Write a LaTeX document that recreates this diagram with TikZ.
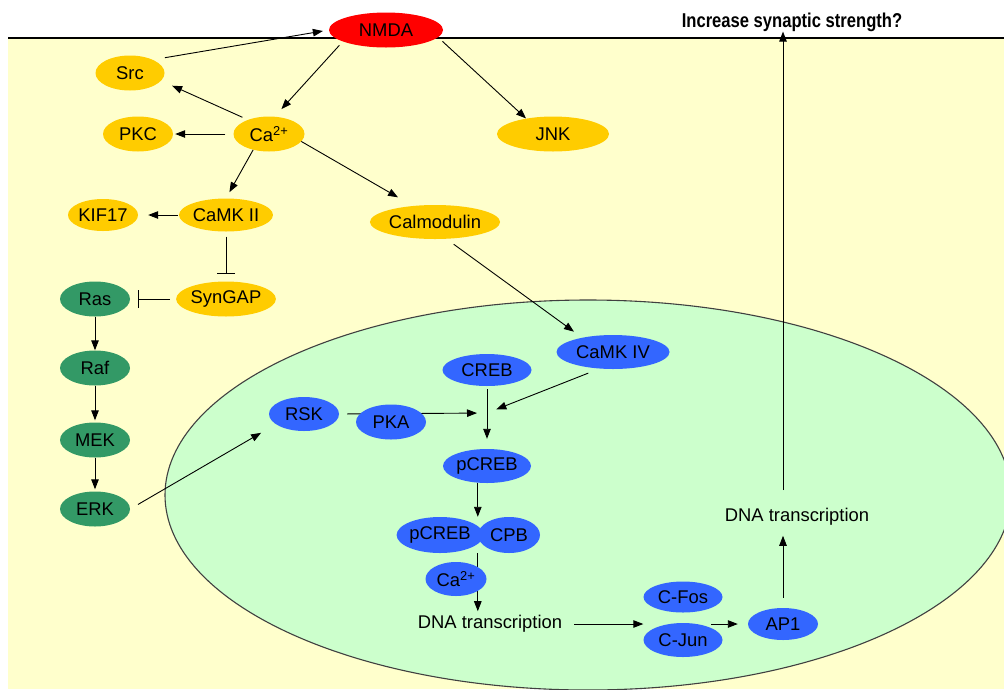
\documentclass[tikz,border=0pt]{standalone}
\usepackage{fontspec}
\setmainfont{Liberation Sans}
\usetikzlibrary{shapes.geometric, arrows.meta, calc}
\definecolor{cytoyellow}{HTML}{FFFFCC}
\definecolor{nucgreen}{HTML}{CCFFCC}
\definecolor{protorange}{HTML}{FFCC00}
\definecolor{protgreen}{HTML}{339966}
\definecolor{protblue}{HTML}{3366FF}
\definecolor{protred}{HTML}{FF0000}

\begin{document}
\begin{tikzpicture}[x=1pt, y=1pt,
	prot/.style={ellipse, minimum height=35pt, inner sep=0pt},
	yprot/.style={prot, fill=protorange},
	gprot/.style={prot, fill=protgreen},
	bprot/.style={prot, fill=protblue},
	act/.style={-{Triangle[length=10pt, width=7.5pt]}, line width=0.9pt},
	inhib/.style={-{Bar[width=18pt]}, line width=0.9pt}]
	\tikzstyle{every node}+=[inner sep=0pt, font=\fontsize{18.4}{22}\selectfont]
	\useasboundingbox (0,0) rectangle (1004,-689);
	% cell and nucleus
	\fill [cytoyellow] (8,-38) rectangle (1004,-689);
	\draw [black, line width=1.1pt] (8,-38) -- (1004,-38);
	\begin{scope}
		\clip (8,-38) rectangle (1004,-689);
		\filldraw [fill=nucgreen, draw=black!75, line width=1.1pt] (588,-495) ellipse [x radius=423pt, y radius=195pt];
	\end{scope}
	% proteins
	\node [prot, fill=protred, minimum width=114pt] (nmda) at (386,-30) {NMDA};
	\node [yprot, minimum width=69pt] (src) at (130,-73) {Src};
	\node [yprot, minimum width=70pt] (pkc) at (138,-134) {PKC};
	\node [yprot, minimum width=71pt] (ca) at (269,-134) {Ca\textsuperscript{2+}};
	\node [yprot, minimum width=112pt] (jnk) at (553,-134) {JNK};
	\node [yprot, minimum width=70pt, minimum height=32pt] (kif) at (103,-215) {KIF17};
	\node [yprot, minimum width=87pt, minimum height=33pt] (camkii) at (226,-215) {CaMK II};
	\node [yprot, minimum width=124pt, minimum height=34pt] (calmod) at (435,-222) {Calmodulin};
	\node [yprot, minimum width=90pt] (syngap) at (226,-299) {SynGAP};
	\node [gprot, minimum width=70pt] (ras) at (95,-299) {Ras};
	\node [gprot, minimum width=70pt] (raf) at (95,-368) {Raf};
	\node [gprot, minimum width=70pt] (mek) at (95,-440) {MEK};
	\node [gprot, minimum width=70pt] (erk) at (95,-509) {ERK};
	\node [bprot, minimum width=70pt, minimum height=34pt] (rsk) at (304,-414) {RSK};
	\node [bprot, minimum width=89pt, minimum height=32pt] (creb) at (487,-370) {CREB};
	\node [bprot, minimum width=113pt, minimum height=34pt] (camkiv) at (613,-352) {CaMK IV};
	\node [bprot, minimum width=88pt, minimum height=34pt] (pcreb) at (487,-466) {pCREB};
	\node [bprot, minimum width=80pt, minimum height=36pt] (pcrebb) at (440,-535) {pCREB};
	\node [bprot, minimum width=62pt, minimum height=36pt] (cpb) at (509,-535) {CPB};
	\node (dnaa) at (490,-624) {DNA transcription};
	\node [bprot, minimum width=79pt, minimum height=31pt] (fos) at (683,-597) {C-Fos};
	\node [bprot, minimum width=79pt, minimum height=34pt] (jun) at (683,-640) {C-Jun};
	\node [bprot, minimum width=70pt, minimum height=32pt] (ap1) at (783,-624) {AP1};
	\node (dnab) at (797,-517) {DNA transcription};
	\node [font=\fontsize{20}{24}\selectfont\bfseries] (incr) at (792,-22) {\scalebox{0.83}[1]{Increase synaptic strength?}};
	\coordinate (merge) at (487,-413);
	% signalling
	\draw [act, shorten <=12pt, shorten >=6pt] (src.30) -- (nmda.west);
	\draw [act, shorten <=5pt, shorten >=10pt] (nmda.195) -- (ca.72);
	\draw [act, shorten <=6pt] (nmda.-8) -- (jnk.150);
	\draw [act, shorten <=6pt, shorten >=12pt] (ca.146) -- (src.-14);
	\draw [act, shorten <=8pt, shorten >=2pt] (ca.west) -- (pkc.east);
	\draw [act, shorten >=7pt] (ca.-135) -- (camkii.north);
	\draw [act, shorten >=17pt] (ca.-13) -- (calmod.144);
	\draw [act, shorten <=1pt, shorten >=10pt] (camkii.west) -- (kif.east);
	\draw [inhib, shorten <=5pt, shorten >=7pt] (camkii.south) -- (syngap.north);
	\draw [inhib, shorten <=6pt, shorten >=8pt] (syngap.west) -- (ras.east);
	\draw [act] (ras) -- (raf);
	\draw [act, shorten >=2pt] (raf) -- (mek);
	\draw [act, shorten >=2pt] (mek) -- (erk);
	\draw [act, shorten <=9pt, shorten >=17pt] (erk.east) -- (rsk.200);
	\draw [act, shorten <=9pt, shorten >=10pt] (calmod.-56) -- (camkiv.155);
	\draw [act, shorten <=12pt, shorten >=10pt] (camkiv.-129) -- (merge);
	\draw [act, shorten <=8pt, shorten >=10pt] (rsk.east) -- (merge);
	\draw [act, shorten <=3pt, shorten >=10pt] (creb) -- (pcreb);
	\draw [act] (pcreb.south -| cpb.west) -- (cpb.west |- pcrebb.north);
	\draw [act, shorten >=4pt] (cpb.west |- pcrebb.south) -- (cpb.west |- dnaa.north);
	\draw [act, shorten <=12pt] (dnaa.east) -- (dnaa.east -| jun.west);
	\draw [act, shorten >=10pt] (ap1.west -| jun.north east) -- (ap1.west);
	\draw [act, shorten <=10pt, shorten >=10pt] (ap1.north) -- (ap1.north |- dnab.south);
	\draw [act, shorten <=18pt] (ap1.north |- dnab.north) -- (ap1.north |- incr.south);
	% drawn over the lines
	\node [bprot, minimum width=70pt] (pka) at (391,-422) {PKA};
	\node [bprot, minimum width=61pt, minimum height=34pt] (caa) at (456,-579) {Ca\textsuperscript{2+}};
\end{tikzpicture}
\end{document}
